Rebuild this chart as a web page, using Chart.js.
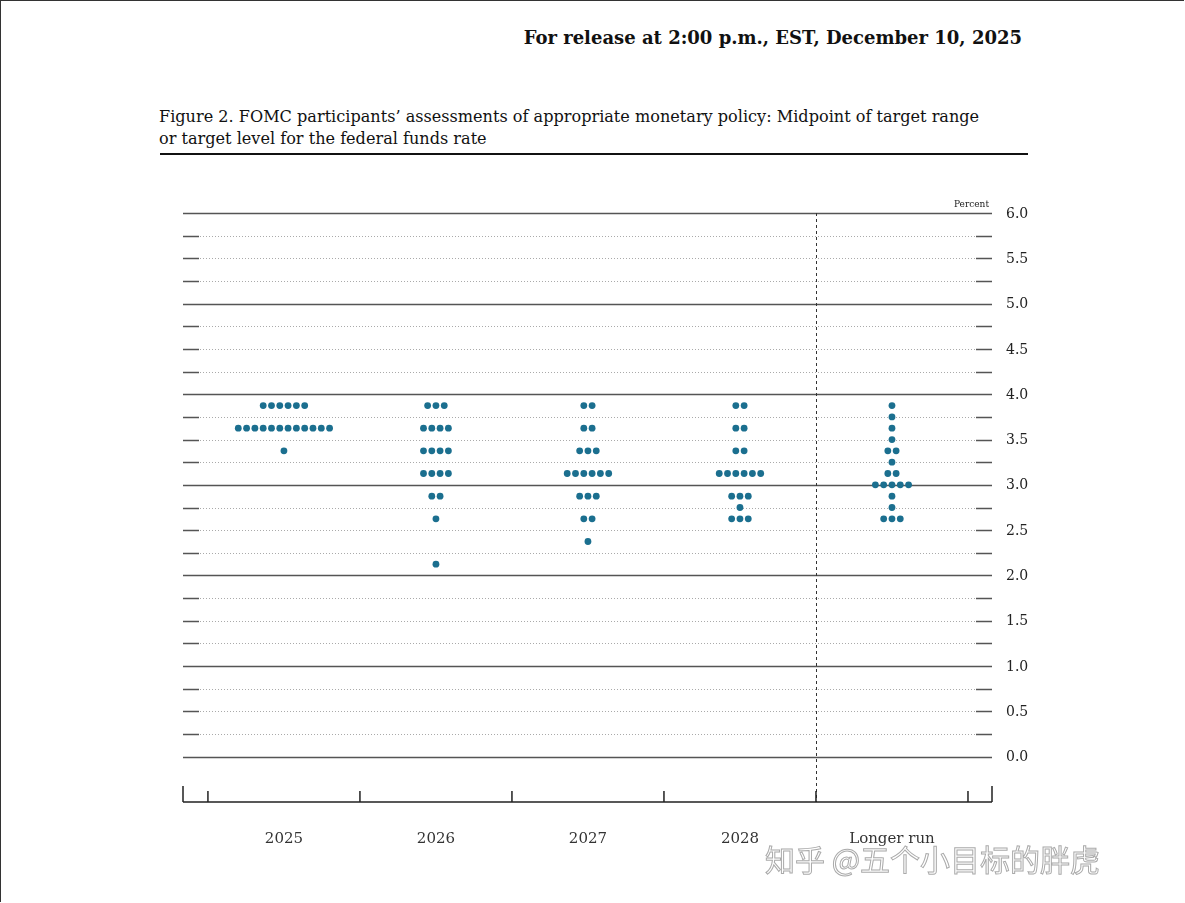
<!DOCTYPE html>
<html><head><meta charset="utf-8">
<script src="https://cdn.jsdelivr.net/npm/chart.js@4"></script>
<style>
body{margin:0;background:#fff;width:1185px;height:903px;overflow:hidden;position:relative;font-family:"DejaVu Serif",serif}
#frame{position:absolute;left:0;top:0;width:1184px;height:902px;border-left:1px solid #333;border-top:1px solid #333;box-sizing:border-box}
#rel{position:absolute;right:163px;top:27px;font-size:18px;font-weight:bold;color:#111}
#cap{position:absolute;left:159px;top:106px;font-size:16.1px;line-height:22px;color:#111}
#rule{position:absolute;left:160px;top:153px;width:868px;height:2px;background:#111}
#wm{position:absolute;left:765px;top:836px;font-family:"Noto Sans CJK SC";font-size:30px;color:#fff;-webkit-text-stroke:1px #aaa}
canvas{position:absolute;left:0;top:0}
</style></head><body>
<div id="frame"></div>
<div id="rel">For release at 2:00 p.m., EST, December 10, 2025</div>
<div id="cap">Figure 2. FOMC participants’ assessments of appropriate monetary policy: Midpoint of target range<br>or target level for the federal funds rate</div>
<div id="rule"></div>
<canvas id="c" width="1185" height="903"></canvas>
<div id="wm">知乎 @五个小目标的胖虎</div>
<script>
const categories=["2025","2026","2027","2028","Longer run"];
const rates2025=[[3.875,6],[3.625,12],[3.375,1]];
const rates2026=[[3.875,3],[3.625,4],[3.375,4],[3.125,4],[2.875,2],[2.625,1],[2.125,1]];
const rates2027=[[3.875,2],[3.625,2],[3.375,3],[3.125,6],[2.875,3],[2.625,2],[2.375,1]];
const rates2028=[[3.875,2],[3.625,2],[3.375,2],[3.125,6],[2.875,3],[2.75,1],[2.625,3]];
const ratesLR=[[3.875,1],[3.75,1],[3.625,1],[3.5,1],[3.375,2],[3.25,1],[3.125,2],[3.0,5],[2.875,1],[2.75,1],[2.625,3]];
const yTickLabels=["0.0","0.5","1.0","1.5","2.0","2.5","3.0","3.5","4.0","4.5","5.0","5.5","6.0"];
const allRates=[rates2025,rates2026,rates2027,rates2028,ratesLR];
const pts=[];
const gap=0.0546;
allRates.forEach((arr,i)=>arr.forEach(([r,n])=>{for(let k=0;k<n;k++)pts.push({x:i+(k-(n-1)/2)*gap,y:r});}));
const deco={id:'deco',beforeDatasetsDraw(ch){
 const c=ch.ctx,xs=ch.scales.x,ys=ch.scales.y,L=ch.chartArea.left,R=ch.chartArea.right;
 c.save();
 for(let v=0;v<=24;v++){const val=v/4,y=Math.round(ys.getPixelForValue(val))+0.5;
  if(v%4===0){c.strokeStyle='#555';c.lineWidth=1.3;c.setLineDash([]);c.beginPath();c.moveTo(L,y);c.lineTo(R,y);c.stroke();}
  else{c.strokeStyle='#aaa';c.lineWidth=1;c.setLineDash([1,2]);c.beginPath();c.moveTo(L+17,y);c.lineTo(R-17,y);c.stroke();
   c.setLineDash([]);c.strokeStyle='#555';c.lineWidth=1.3;c.beginPath();c.moveTo(L,y);c.lineTo(L+16,y);c.moveTo(R-16,y);c.lineTo(R,y);c.stroke();}
 }
 c.setLineDash([]);c.fillStyle='#222';c.font='14px "DejaVu Serif"';c.textBaseline='middle';c.textAlign='left';
 yTickLabels.forEach(t=>{const y=ys.getPixelForValue(parseFloat(t))+1;c.fillText(t,R+14,y);});
 c.font='9px "DejaVu Serif"';c.textAlign='right';c.fillText('Percent',R-3,ys.getPixelForValue(6)-8);
 const xd=Math.round(xs.getPixelForValue(3.5))+0.5;
 c.strokeStyle='#333';c.lineWidth=1;c.setLineDash([3,3]);c.beginPath();c.moveTo(xd,ys.getPixelForValue(6));c.lineTo(xd,ys.getPixelForValue(-0.5));c.stroke();
 c.setLineDash([]);c.strokeStyle='#222';c.lineWidth=1.5;const yb=ys.getPixelForValue(-0.5);
 c.beginPath();c.moveTo(L,yb);c.lineTo(R,yb);c.moveTo(L,yb);c.lineTo(L,yb-16);c.moveTo(R,yb);c.lineTo(R,yb-16);
 for(let b=-0.5;b<=4.5;b++){const x=xs.getPixelForValue(b);c.moveTo(x,yb);c.lineTo(x,yb-11);}
 c.stroke();
 c.font='15px "DejaVu Serif"';c.textAlign='center';c.fillStyle='#333';
 categories.forEach((t,i)=>c.fillText(t,xs.getPixelForValue(i),yb+37));
 c.restore();}};
new Chart(document.getElementById('c'),{type:'scatter',
 data:{datasets:[{data:pts,pointRadius:3.4,pointHoverRadius:3.4,backgroundColor:'#1b6f8f',borderColor:'#1b6f8f',borderWidth:0}]},
 options:{responsive:false,animation:false,events:[],layout:{padding:{left:183,right:193,top:213,bottom:101}},
  plugins:{legend:{display:false},tooltip:{enabled:false}},
  scales:{x:{type:'linear',min:-0.664,max:4.658,display:false},y:{min:-0.5,max:6,display:false}}},
 plugins:[deco]});
</script></body></html>
